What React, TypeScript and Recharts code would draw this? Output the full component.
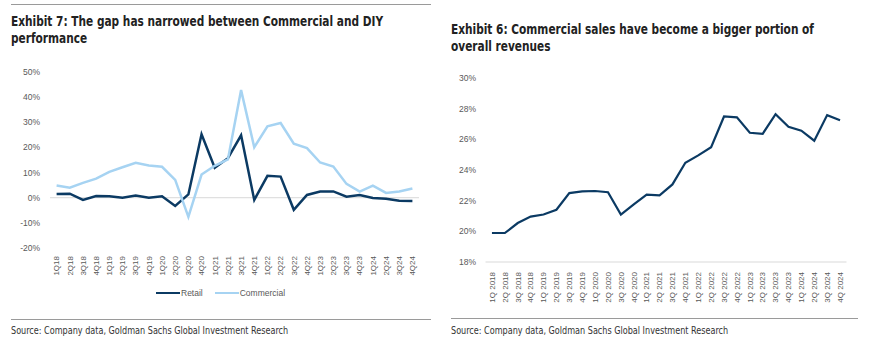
import React from "react";
import { LineChart, Line, XAxis, YAxis, ReferenceLine } from "recharts";

// Two Goldman-style exhibits side by side: growth gap (left), commercial share (right).

const quarters = [
  "1Q18", "2Q18", "3Q18", "4Q18", "1Q19", "2Q19", "3Q19", "4Q19",
  "1Q20", "2Q20", "3Q20", "4Q20", "1Q21", "2Q21", "3Q21", "4Q21",
  "1Q22", "2Q22", "3Q22", "4Q22", "1Q23", "2Q23", "3Q23", "4Q23",
  "1Q24", "2Q24", "3Q24", "4Q24",
];

const quartersLong = [
  "1Q 2018", "2Q 2018", "3Q 2018", "4Q 2018", "1Q 2019", "2Q 2019", "3Q 2019", "4Q 2019",
  "1Q 2020", "2Q 2020", "3Q 2020", "4Q 2020", "1Q 2021", "2Q 2021", "3Q 2021", "4Q 2021",
  "1Q 2022", "2Q 2022", "3Q 2022", "4Q 2022", "1Q 2023", "2Q 2023", "3Q 2023", "4Q 2023",
  "1Q 2024", "2Q 2024", "3Q 2024", "4Q 2024",
];

const retailGrowth = [
  1.5, 1.6, -0.9, 0.7, 0.6, 0.0, 0.9, 0.0, 0.6, -3.3, 1.3, 25.2, 11.9, 15.7,
  24.8, -0.9, 8.7, 8.4, -4.8, 1.1, 2.5, 2.5, 0.4, 1.1, -0.1, -0.4, -1.2, -1.3,
];

const commercialGrowth = [
  4.9, 4.0, 5.9, 7.6, 10.3, 12.1, 13.9, 12.8, 12.3, 7.1, -7.6, 9.2, 12.7, 15.2,
  42.8, 20.1, 28.4, 29.7, 21.5, 19.7, 14.0, 12.4, 5.5, 2.4, 4.8, 1.9, 2.5, 3.7,
];

const commercialShare = [
  19.89, 19.89, 20.54, 20.96, 21.1, 21.41, 22.49, 22.6, 22.63, 22.55, 21.09, 21.76,
  22.39, 22.35, 23.06, 24.47, 24.95, 25.49, 27.49, 27.43, 26.43, 26.36, 27.64, 26.82,
  26.56, 25.91, 27.58, 27.25,
];

const growthTicks = [-20, -10, 0, 10, 20, 30, 40, 50];
const shareTicks = [18, 20, 22, 24, 26, 28, 30];

const NAVY = "#0b3a63";
const LIGHT = "#a6d3f2";
const GREY = "#595959";
const AXIS_FONT = '"Liberation Sans", Arial, sans-serif';
const NARROW = '"Liberation Sans Narrow", "DejaVu Sans Condensed", sans-serif';

const growthData = quarters.map((q, i) => ({
  q,
  retail: retailGrowth[i],
  commercial: commercialGrowth[i],
}));

const shareData = quartersLong.map((q, i) => ({ q, share: commercialShare[i] }));

const RotTick = (props: any) => {
  const { x, payload, shift = 0 } = props;
  const y = props.y + shift;
  return (
    <text
      x={x}
      y={y}
      transform={`rotate(-90, ${x}, ${y})`}
      textAnchor="end"
      dy="0.35em"
      fill={GREY}
      fontSize={8}
      fontFamily={AXIS_FONT}
    >
      {payload.value}
    </text>
  );
};

const rule = (left: number, top: number, width: number): React.CSSProperties => ({
  position: "absolute",
  left,
  top,
  width,
  height: 0,
  borderTop: "1.5px solid #9a9a9a",
});

// the condensed face isn't installed, so squeeze the condensed fallback a bit
const squeeze = (left: number, top: number, sx: number): React.CSSProperties => ({
  position: "absolute",
  left,
  top,
  whiteSpace: "nowrap",
  transform: `scaleX(${sx})`,
  transformOrigin: "0 0",
});

const titleText: React.CSSProperties = {
  fontFamily: NARROW,
  fontWeight: "bold",
  fontSize: 13.5,
  lineHeight: "17px",
  color: "#222",
};

const sourceText: React.CSSProperties = {
  fontFamily: NARROW,
  fontSize: 10,
  color: "#333",
};

export default function App() {
  return (
    <div style={{ position: "absolute", left: 0, top: 0, width: 883, height: 356, background: "#fff" }}>
      <div style={rule(11, 4, 420)} />
      <div style={{ ...squeeze(11, 13, 0.87), ...titleText }}>
        Exhibit 7: The gap has narrowed between Commercial and DIY
        <br />
        performance
      </div>

      <div style={{ position: "absolute", left: 0, top: 0 }}>
        <LineChart
          width={440}
          height={290}
          data={growthData}
          margin={{ top: 72, right: 21, bottom: 0, left: 0 }}
        >
          <XAxis
            dataKey="q"
            interval={0}
            axisLine={false}
            tickLine={false}
            height={42}
            padding={{ left: 6.6, right: 6.6 }}
            tick={<RotTick />}
          />
          <YAxis
            width={50}
            domain={[-20, 50]}
            ticks={growthTicks}
            axisLine={false}
            tickLine={false}
            tickMargin={4}
            tickFormatter={(v: number) => `${v}%`}
            tick={{ fill: GREY, fontSize: 8.5, fontFamily: AXIS_FONT }}
          />
          <ReferenceLine y={0} stroke="#d9d9d9" strokeWidth={1} />
          <Line
            dataKey="retail"
            stroke={NAVY}
            strokeWidth={2.5}
            dot={false}
            isAnimationActive={false}
          />
          <Line
            dataKey="commercial"
            stroke={LIGHT}
            strokeWidth={2.5}
            dot={false}
            isAnimationActive={false}
          />
        </LineChart>
      </div>

      <div
        style={{
          position: "absolute",
          left: 156,
          top: 287,
          display: "flex",
          alignItems: "center",
          fontFamily: AXIS_FONT,
          fontSize: 8.5,
          color: GREY,
          lineHeight: "12px",
        }}
      >
        <span style={{ display: "inline-block", width: 24, height: 2.5, background: NAVY }} />
        <span style={{ marginLeft: 1 }}>Retail</span>
        <span style={{ display: "inline-block", width: 24, height: 2.5, background: LIGHT, marginLeft: 12 }} />
        <span style={{ marginLeft: 1 }}>Commercial</span>
      </div>

      <div style={rule(11, 319, 420)} />
      <div style={{ ...squeeze(11, 325, 0.9), ...sourceText }}>
        Source: Company data, Goldman Sachs Global Investment Research
      </div>

      <div style={{ ...squeeze(451, 21, 0.87), ...titleText }}>
        Exhibit 6: Commercial sales have become a bigger portion of
        <br />
        overall revenues
      </div>

      <div style={{ position: "absolute", left: 440, top: 0 }}>
        <LineChart
          width={443}
          height={310}
          data={shareData}
          margin={{ top: 78, right: 36.5, bottom: 0, left: 0 }}
        >
          <XAxis
            dataKey="q"
            interval={0}
            axisLine={{ stroke: "#d9d9d9" }}
            tickLine={false}
            height={48}
            padding={{ left: 6.45, right: 6.45 }}
            tick={<RotTick shift={2} />}
          />
          <YAxis
            width={45.5}
            domain={[18, 30]}
            ticks={shareTicks}
            axisLine={false}
            tickLine={false}
            tickMargin={3.5}
            tickFormatter={(v: number) => `${v}%`}
            tick={{ fill: GREY, fontSize: 8.5, fontFamily: AXIS_FONT }}
          />
          <Line
            dataKey="share"
            stroke={NAVY}
            strokeWidth={2.2}
            dot={false}
            isAnimationActive={false}
          />
        </LineChart>
      </div>

      <div style={rule(451, 318, 407)} />
      <div style={{ ...squeeze(451, 325, 0.9), ...sourceText }}>
        Source: Company data, Goldman Sachs Global Investment Research
      </div>
    </div>
  );
}
